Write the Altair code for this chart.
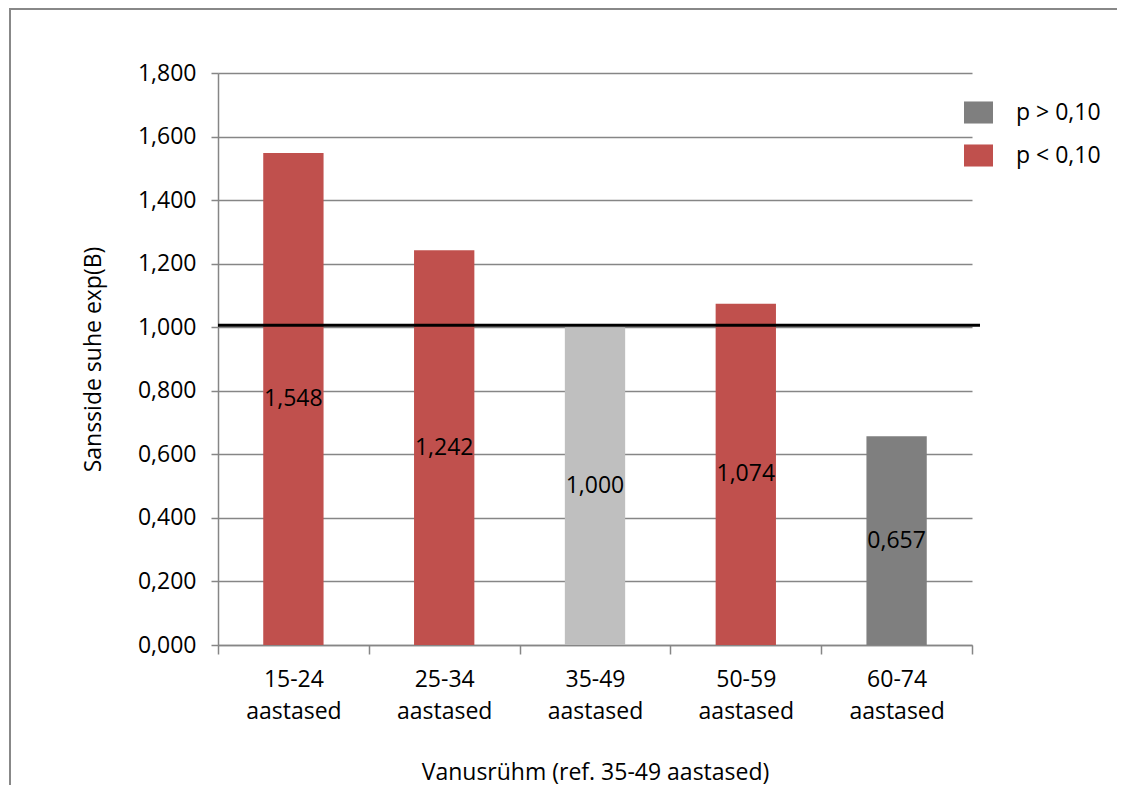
import altair as alt
import pandas as pd

categories = ["15-24 aastased", "25-34 aastased", "35-49 aastased", "50-59 aastased", "60-74 aastased"]
values = [1.548, 1.242, 1.000, 1.074, 0.657]
groups = ["p < 0,10", "p < 0,10", "ref", "p < 0,10", "p > 0,10"]
legend_items = ["p > 0,10", "p < 0,10"]
color_domain = ["p > 0,10", "p < 0,10", "ref"]
color_range = ["#7F7F7F", "#C0504D", "#BFBFBF"]
reference_value = [1.0]
y_ticks = [0, 0.2, 0.4, 0.6, 0.8, 1.0, 1.2, 1.4, 1.6, 1.8]

df = pd.DataFrame({"cat": categories, "value": values, "grp": groups})
ref_df = pd.DataFrame({"ref": reference_value})

FONT = "Open Sans"
GRID = "#868686"

W, H = 754, 572
PAD = {"left": 210, "top": 65, "right": 145, "bottom": 140}

x_enc = alt.X(
    "cat:N",
    sort=categories,
    scale=alt.Scale(paddingInner=0, paddingOuter=0),
    axis=alt.Axis(
        title="Vanusrühm (ref. 35-49 aastased)",
        labelExpr="split(datum.label, ' ')",
        labelAngle=0,
        labelFontSize=23,
        labelLineHeight=32,
        labelPadding=14,
        labelColor="black",
        tickBand="extent",
        tickSize=9,
        tickColor=GRID,
        domainColor=GRID,
        domainWidth=1.5,
        tickWidth=1.5,
        grid=False,
        titleFontSize=23,
        titleFontWeight="normal",
        titleColor="black",
        titleX=377,
        titleY=127,
        titleBaseline="middle",
        titleAlign="center",
    ),
)

y_scale = alt.Scale(domain=[0, 1.8], nice=False)

bars = alt.Chart(df).mark_bar(width=alt.RelativeBandSize(0.4)).encode(
    x=x_enc,
    y=alt.Y(
        "value:Q",
        scale=y_scale,
        axis=alt.Axis(
            title="Sansside suhe exp(B)",
            values=y_ticks,
            labelExpr="replace(format(datum.value, '.3f'), '.', ',')",
            labelFontSize=23,
            labelColor="black",
            labelPadding=15,
            tickSize=7,
            tickColor=GRID,
            tickWidth=1.5,
            domainColor=GRID,
            domainWidth=1.5,
            gridColor=GRID,
            gridWidth=1.5,
            titleFontSize=23,
            titleFontWeight="normal",
            titleColor="black",
            titleX=-125,
            titleY=286,
            titleBaseline="middle",
            titleAlign="center",
        ),
    ),
    color=alt.Color(
        "grp:N",
        scale=alt.Scale(domain=color_domain, range=color_range),
        legend=alt.Legend(
            title=None,
            values=legend_items,
            orient="none",
            legendX=746,
            legendY=25,
            padding=0,
            symbolType="M-1,-0.76L1,-0.76L1,0.76L-1,0.76Z",
            symbolSize=841,
            symbolStrokeWidth=0,
            labelFontSize=23,
            labelColor="black",
            labelOffset=23,
            rowPadding=16,
        ),
    ),
)

labels = alt.Chart(df).transform_calculate(
    half="datum.value / 2",
    txt="replace(format(datum.value, '.3f'), '.', ',')",
).mark_text(fontSize=23, color="black", baseline="middle", align="center").encode(
    x=alt.X("cat:N", sort=categories),
    y=alt.Y("half:Q", scale=y_scale),
    text="txt:N",
)

ref_line = alt.Chart(ref_df).mark_rule(color="black", strokeWidth=3, yOffset=-2).encode(
    y=alt.Y("ref:Q", scale=y_scale),
    x=alt.value(0),
    x2=alt.value(762),
)

frame = alt.Data(values=[{}])
border_top = alt.Chart(frame).mark_rule(stroke="#888888", strokeWidth=2).encode(
    x=alt.value(-208),
    x2=alt.value(W + PAD["right"]),
    y=alt.value(-64),
)
border_left = alt.Chart(frame).mark_rule(stroke="#888888", strokeWidth=2).encode(
    x=alt.value(-208),
    y=alt.value(-65),
    y2=alt.value(H + PAD["bottom"]),
)

chart = alt.layer(border_top, border_left, bars, labels, ref_line).properties(
    width=W,
    height=H,
    autosize=alt.AutoSizeParams(type="none"),
    padding=PAD,
).configure(font=FONT).configure_view(stroke=None)

chart.save("out.html", embed_options={"renderer": "svg", "actions": False})
